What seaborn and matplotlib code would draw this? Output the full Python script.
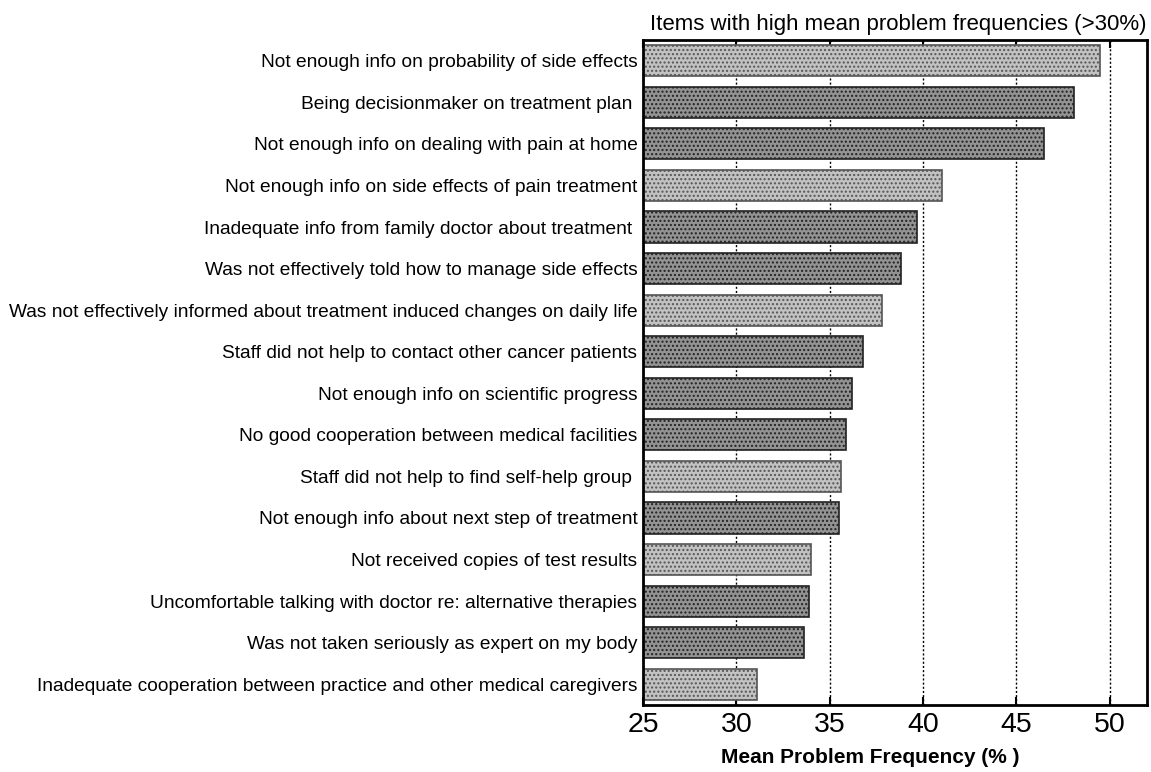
import matplotlib
matplotlib.use("Agg")
import matplotlib.pyplot as plt
import seaborn as sns
import pandas as pd

items = [
    "Not enough info on probability of side effects",
    "Being decisionmaker on treatment plan ",
    "Not enough info on dealing with pain at home",
    "Not enough info on side effects of pain treatment",
    "Inadequate info from family doctor about treatment ",
    "Was not effectively told how to manage side effects",
    "Was not effectively informed about treatment induced changes on daily life",
    "Staff did not help to contact other cancer patients",
    "Not enough info on scientific progress",
    "No good cooperation between medical facilities",
    "Staff did not help to find self-help group ",
    "Not enough info about next step of treatment",
    "Not received copies of test results",
    "Uncomfortable talking with doctor re: alternative therapies",
    "Was not taken seriously as expert on my body",
    "Inadequate cooperation between practice and other medical caregivers",
]
frequency = [49.5, 48.1, 46.5, 41.0, 39.7, 38.8, 37.8, 36.8,
             36.2, 35.9, 35.6, 35.5, 34.0, 33.9, 33.6, 31.1]
shade = ["light", "dark", "dark", "light", "dark", "dark", "light", "dark",
         "dark", "dark", "light", "dark", "light", "dark", "dark", "light"]

df = pd.DataFrame({"item": items, "freq": frequency, "shade": shade})

sns.set_style("white")
plt.rcParams["font.family"] = ["Liberation Sans", "DejaVu Sans"]
for key in ["text.color", "axes.labelcolor", "xtick.color", "ytick.color"]:
    plt.rcParams[key] = "black"
plt.rcParams["hatch.color"] = "#ffffff"

fig = plt.figure(figsize=(11.51, 7.72), dpi=100)
ax = fig.add_axes([643 / 1151, 1 - 705 / 772, 504 / 1151, 665 / 772])

face = {"light": "#c2c2c2", "dark": "#939393"}
sns.barplot(data=df, x="freq", y="item", hue="item",
            palette=[face[s] for s in shade], legend=False,
            orient="h", width=0.75, ax=ax, zorder=2)

for patch, s in zip(ax.patches, shade):
    patch.set_edgecolor("#222222" if s == "dark" else "#555555")
    patch.set_linewidth(1.2)
    patch.set_hatch("....")

ax.set_xlim(25, 52)
ax.set_xticks([25, 30, 35, 40, 45, 50])
ax.tick_params(axis="x", direction="in", length=6, width=1.5, labelsize=20.5,
               top=True, bottom=True, pad=5)
ax.tick_params(axis="y", length=0, labelsize=13.8, pad=4)
ax.xaxis.grid(True, linestyle=(0, (1.5, 1.5)), color="black", linewidth=1)
ax.set_axisbelow(True)
for sp in ax.spines.values():
    sp.set_linewidth(2)
    sp.set_color("black")

ax.set_ylabel("")
ax.set_xlabel("Mean Problem Frequency (% )", fontsize=15, fontweight="bold",
              labelpad=7)
ax.xaxis.label.set_x(0.45)
ax.set_title("Items with high mean problem frequencies (>30%)", fontsize=16,
             loc="right", pad=7)

fig.savefig("out.png", dpi=100)
